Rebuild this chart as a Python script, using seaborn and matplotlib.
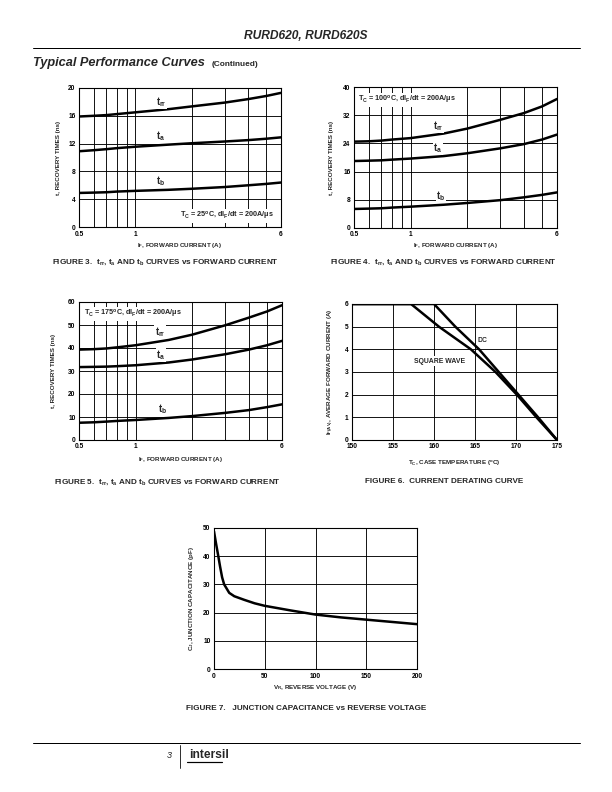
import matplotlib
matplotlib.use("Agg")
import matplotlib.pyplot as plt
from matplotlib.lines import Line2D
from matplotlib.ticker import FixedLocator, FixedFormatter, NullFormatter
import seaborn as sns
import pandas as pd

# ---------------- data ----------------
# Figures 3-5: recovery times vs forward current
if_amps = [0.5, 0.6, 0.7, 0.8, 1, 1.5, 2, 3, 4, 5, 6]
if_ticks = [0.5, 1, 6]
if_tick_labels = ["0.5", "1", "6"]
if_minor = [0.6, 0.7, 0.8, 0.9, 2, 3, 4, 5]

trr_25 = [15.9, 16.0, 16.1, 16.25, 16.5, 16.95, 17.35, 17.9, 18.4, 18.85, 19.3]
ta_25 = [10.9, 11.05, 11.2, 11.35, 11.55, 11.85, 12.05, 12.3, 12.5, 12.7, 12.9]
tb_25 = [4.9, 4.95, 5.0, 5.1, 5.2, 5.35, 5.5, 5.75, 6.0, 6.2, 6.4]

trr_100 = [24.5, 24.6, 24.8, 25.1, 25.5, 26.8, 28.2, 30.7, 32.6, 34.5, 36.6]
ta_100 = [19.0, 19.1, 19.2, 19.4, 19.7, 20.4, 21.2, 22.6, 23.8, 25.1, 26.5]
tb_100 = [5.4, 5.5, 5.6, 5.8, 6.05, 6.6, 7.1, 7.9, 8.7, 9.4, 10.1]

trr_175 = [39.3, 39.5, 39.8, 40.3, 41.2, 43.5, 45.8, 49.9, 53.2, 55.9, 58.6]
ta_175 = [31.7, 31.8, 31.9, 32.1, 32.5, 33.7, 35.0, 37.3, 39.3, 41.2, 43.1]
tb_175 = [7.5, 7.7, 8.0, 8.3, 8.7, 9.6, 10.4, 11.8, 13.0, 14.3, 15.5]

# Figure 6: current derating
dc_tc = [150, 160, 162.6, 165.5, 167.9, 170.3, 172.7, 175]
dc_if = [6, 6, 5, 4, 3, 2, 1, 0]
sq_tc = [150, 157.2, 160.6, 164.5, 167.5, 170.1, 172.5, 175]
sq_if = [6, 6, 5, 4, 3, 2, 1, 0]

# Figure 7: junction capacitance
vr = [0, 2, 4, 6, 8, 10, 15, 20, 30, 40, 50, 75, 100, 125, 150, 175, 200]
cj = [48.8, 44.5, 40.5, 36.3, 32.5, 30.0, 27.0, 25.8, 24.5, 23.3, 22.4, 20.8, 19.3, 18.3, 17.5, 16.7, 15.9]

# ---------------- style ----------------
sns.set_theme(style="white")
plt.rcParams['font.family'] = ['Liberation Sans', 'DejaVu Sans']
plt.rcParams['font.weight'] = 'bold'
plt.rcParams['mathtext.fontset'] = 'custom'
plt.rcParams['mathtext.rm'] = 'Liberation Sans:bold'
plt.rcParams['mathtext.it'] = 'Liberation Sans:bold'
plt.rcParams['mathtext.bf'] = 'Liberation Sans:bold'
plt.rcParams['mathtext.default'] = 'rm'

W, H = 612, 792
fig = plt.figure(figsize=(W / 72, H / 72), dpi=72)
fig.patch.set_facecolor("white")

TICK_FS = 6.6
LABEL_FS = 6.3
CAP_FS = 8.1
ANN_FS = 7.3
CURVE_FS = 9.5
CURVE_LW = 2.5
GRID_LW = 0.9


def add_axes(l, t, r, b):
    return fig.add_axes([l / W, 1 - b / H, (r - l) / W, (b - t) / H])


def fx(x):
    return x / W


def fy(y):
    return 1 - y / H


def style_axes(ax):
    for s in ax.spines.values():
        s.set_color("black")
        s.set_linewidth(1.1)
    ax.tick_params(axis="both", which="both", length=0, labelsize=TICK_FS, pad=3.5, colors="black")
    ax.set_facecolor("white")


def axis_labels(ax, xlabel, ylabel, box, xl_y, yl_x):
    # xl_y / yl_x are the centres of the label texts in page pixels
    l, t, r, b = box
    ax.set_xlabel(xlabel, fontsize=LABEL_FS, fontweight="bold")
    ax.set_ylabel(ylabel, fontsize=LABEL_FS, fontweight="bold")
    ax.xaxis.set_label_coords(0.5, (b - (xl_y - 3.5)) / (b - t))
    ax.yaxis.set_label_coords(((yl_x + 3.5) - l) / (r - l), 0.5)


def recovery_plot(box, trr, ta, tb, ymax, ystep, ann, ann_xy, lab_xy, cap, cap_xy, xl_y, yl_x):
    ax = add_axes(*box)
    n = len(if_amps)
    df = pd.DataFrame({
        "IF": if_amps * 3,
        "t": trr + ta + tb,
        "curve": ["trr"] * n + ["ta"] * n + ["tb"] * n,
    })
    sns.lineplot(data=df, x="IF", y="t", units="curve", estimator=None, color="black",
                 lw=CURVE_LW, ax=ax, legend=False, zorder=4)
    ax.set_xscale("log")
    ax.set_xlim(0.5, 6)
    ax.set_ylim(0, ymax)
    ax.xaxis.set_major_locator(FixedLocator(if_ticks))
    ax.xaxis.set_major_formatter(FixedFormatter(if_tick_labels))
    ax.xaxis.set_minor_locator(FixedLocator(if_minor))
    ax.xaxis.set_minor_formatter(NullFormatter())
    ax.set_yticks(list(range(0, ymax + 1, ystep)))
    ax.grid(True, which="both", axis="x", color="black", lw=GRID_LW)
    ax.grid(True, which="major", axis="y", color="black", lw=GRID_LW)
    ax.set_axisbelow(True)
    style_axes(ax)
    axis_labels(ax, "I$_F$, FORWARD CURRENT (A)", "t, RECOVERY TIMES (ns)", box, xl_y, yl_x)
    bb = dict(facecolor="white", edgecolor="none", pad=1.2)
    fig.text(fx(ann_xy[0]), fy(ann_xy[1]), ann, fontsize=ANN_FS, ha="center", va="center",
             bbox=bb, zorder=5)
    for txt, (x, y) in zip(["t$_{rr}$", "t$_a$", "t$_b$"], lab_xy):
        fig.text(fx(x), fy(y), txt, fontsize=CURVE_FS, ha="center", va="center",
                 bbox=dict(facecolor="white", edgecolor="none", pad=0.6),
                 zorder=5)
    fig.text(fx(cap_xy[0]), fy(cap_xy[1]), cap, fontsize=CAP_FS, ha="center", va="center")
    return ax


# Figure 3
recovery_plot((79, 88, 281, 227), trr_25, ta_25, tb_25, 20, 4,
              "T$_C$ = 25$^o$C, dI$_F$/dt = 200A/μs", (227, 216),
              [(161, 102), (161, 136), (161, 181)],
              "FIGURE 3.  t$_{rr}$, t$_a$ AND t$_b$ CURVES vs FORWARD CURRENT", (165, 262),
              244, 57)

# Figure 4
recovery_plot((354, 87, 557, 228), trr_100, ta_100, tb_100, 40, 8,
              "T$_C$ = 100$^o$C, dI$_F$/dt = 200A/μs", (407, 100),
              [(438, 126), (438, 148), (441, 196)],
              "FIGURE 4.  t$_{rr}$, t$_a$ AND t$_b$ CURVES vs FORWARD CURRENT", (443, 262),
              245, 330)

# Figure 5
recovery_plot((79, 302, 282, 440), trr_175, ta_175, tb_175, 60, 10,
              "T$_C$ = 175$^o$C, dI$_F$/dt = 200A/μs", (133, 314),
              [(160, 332), (161, 355), (163, 409)],
              "FIGURE 5.  t$_{rr}$, t$_a$ AND t$_b$ CURVES vs FORWARD CURRENT", (167, 482),
              458, 52)

# Figure 6
box6 = (352, 304, 557, 440)
ax6 = add_axes(*box6)
df6 = pd.DataFrame({
    "Tc": dc_tc + sq_tc,
    "If": dc_if + sq_if,
    "curve": ["DC"] * len(dc_tc) + ["SQUARE WAVE"] * len(sq_tc),
})
sns.lineplot(data=df6, x="Tc", y="If", units="curve", estimator=None, color="black",
             lw=CURVE_LW, ax=ax6, legend=False, zorder=4, sort=False)
ax6.set_xlim(150, 175)
ax6.set_ylim(0, 6)
ax6.set_xticks([150, 155, 160, 165, 170, 175])
ax6.set_yticks([0, 1, 2, 3, 4, 5, 6])
ax6.grid(True, color="black", lw=GRID_LW)
ax6.set_axisbelow(True)
style_axes(ax6)
axis_labels(ax6, "T$_C$, CASE TEMPERATURE ($^o$C)", "I$_{F(AV)}$, AVERAGE FORWARD CURRENT (A)",
            box6, 462, 333)
fig.text(fx(482), fy(341), "DC", fontsize=ANN_FS * 0.95, ha="center", va="center", zorder=5)
fig.text(fx(440), fy(361), "SQUARE WAVE", fontsize=ANN_FS * 0.95, ha="center", va="center",
         bbox=dict(facecolor="white", edgecolor="none", pad=1.5), zorder=5)
fig.text(fx(444), fy(481), "FIGURE 6.  CURRENT DERATING CURVE", fontsize=CAP_FS,
         ha="center", va="center")

# Figure 7
box7 = (214, 528, 417, 669)
ax7 = add_axes(*box7)
df7 = pd.DataFrame({"VR": vr, "CJ": cj})
sns.lineplot(data=df7, x="VR", y="CJ", color="black", lw=CURVE_LW, ax=ax7, zorder=4)
ax7.set_xlim(0, 200)
ax7.set_ylim(0, 50)
ax7.set_xticks([0, 50, 100, 150, 200])
ax7.set_yticks([0, 10, 20, 30, 40, 50])
ax7.grid(True, color="black", lw=GRID_LW)
ax7.set_axisbelow(True)
style_axes(ax7)
axis_labels(ax7, "V$_R$, REVERSE VOLTAGE (V)", "C$_J$, JUNCTION CAPACITANCE (pF)",
            box7, 686, 192)
fig.text(fx(306), fy(708), "FIGURE 7.   JUNCTION CAPACITANCE vs REVERSE VOLTAGE",
         fontsize=CAP_FS, ha="center", va="center")

# ---------------- page header / footer ----------------
fig.text(fx(306), fy(36), "RURD620, RURD620S", fontsize=12, fontweight="bold",
         fontstyle="italic", ha="center", va="center")
fig.add_artist(Line2D([fx(33), fx(580)], [fy(48), fy(48)], color="black", lw=1.0,
                      transform=fig.transFigure))
fig.text(fx(33), fy(63), "Typical Performance Curves", fontsize=12.8, fontweight="bold",
         fontstyle="italic", ha="left", va="center")
fig.text(fx(212), fy(65), "(Continued)", fontsize=8.2, fontweight="bold",
         ha="left", va="center")

fig.add_artist(Line2D([fx(33), fx(580)], [fy(743), fy(743)], color="black", lw=1.0,
                      transform=fig.transFigure))
fig.text(fx(172), fy(755), "3", fontsize=9, fontweight="normal", fontstyle="italic",
         ha="right", va="center")
fig.add_artist(Line2D([fx(180), fx(180)], [fy(745), fy(768)], color="black", lw=0.8,
                      transform=fig.transFigure))
fig.text(fx(189), fy(755), "intersil", fontsize=12, fontweight="heavy",
         ha="left", va="center")
fig.add_artist(Line2D([fx(187), fx(222)], [fy(762), fy(762)], color="black", lw=1.2,
                      transform=fig.transFigure))

fig.savefig("out.png", dpi=72, facecolor="white")
